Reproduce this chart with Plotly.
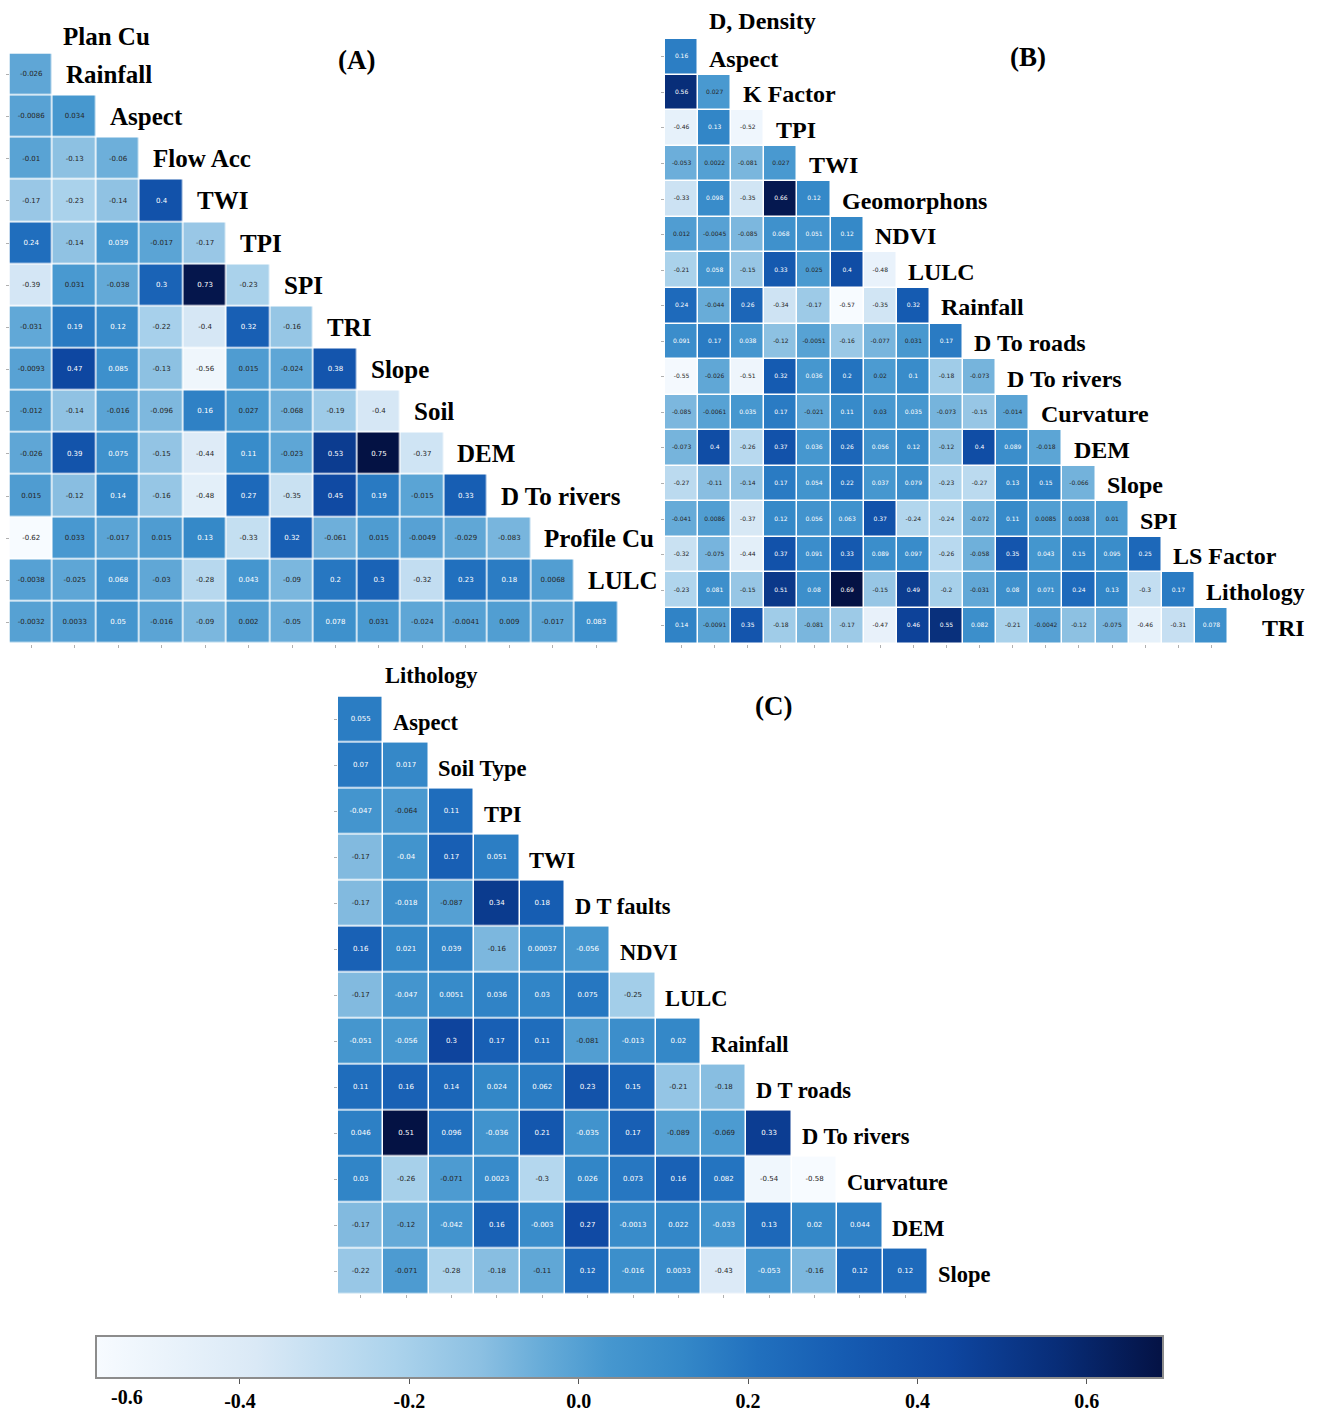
import plotly.graph_objects as go
from plotly.colors import sample_colorscale, sequential

# ---------------- data: lower-triangle correlation matrices ----------------
# Panel A
a_labels = ["Plan Cu", "Rainfall", "Aspect", "Flow Acc", "TWI", "TPI", "SPI", "TRI",
            "Slope", "Soil", "DEM", "D To rivers", "Profile Cu", "LULC"]
a_rows = [
    [-0.026],
    [-0.0086, 0.034],
    [-0.01, -0.13, -0.06],
    [-0.17, -0.23, -0.14, 0.4],
    [0.24, -0.14, 0.039, -0.017, -0.17],
    [-0.39, 0.031, -0.038, 0.3, 0.73, -0.23],
    [-0.031, 0.19, 0.12, -0.22, -0.4, 0.32, -0.16],
    [-0.0093, 0.47, 0.085, -0.13, -0.56, 0.015, -0.024, 0.38],
    [-0.012, -0.14, -0.016, -0.096, 0.16, 0.027, -0.068, -0.19, -0.4],
    [-0.026, 0.39, 0.075, -0.15, -0.44, 0.11, -0.023, 0.53, 0.75, -0.37],
    [0.015, -0.12, 0.14, -0.16, -0.48, 0.27, -0.35, 0.45, 0.19, -0.015, 0.33],
    [-0.62, 0.033, -0.017, 0.015, 0.13, -0.33, 0.32, -0.061, 0.015, -0.0049, -0.029, -0.083],
    [-0.0038, -0.025, 0.068, -0.03, -0.28, 0.043, -0.09, 0.2, 0.3, -0.32, 0.23, 0.18, 0.0068],
    [-0.0032, 0.0033, 0.05, -0.016, -0.09, 0.002, -0.05, 0.078, 0.031, -0.024, -0.0041,
     0.009, -0.017, 0.083],
]

# Panel B
b_labels = ["D, Density", "Aspect", "K Factor", "TPI", "TWI", "Geomorphons", "NDVI", "LULC",
            "Rainfall", "D To roads", "D To rivers", "Curvature", "DEM", "Slope", "SPI",
            "LS Factor", "Lithology", "TRI"]
b_rows = [
    [0.16],
    [0.56, 0.027],
    [-0.46, 0.13, -0.52],
    [-0.053, 0.0022, -0.081, 0.027],
    [-0.33, 0.098, -0.35, 0.66, 0.12],
    [0.012, -0.0045, -0.085, 0.068, 0.051, 0.12],
    [-0.21, 0.058, -0.15, 0.33, 0.025, 0.4, -0.48],
    [0.24, -0.044, 0.26, -0.34, -0.17, -0.57, -0.35, 0.32],
    [0.091, 0.17, 0.038, -0.12, -0.0051, -0.16, -0.077, 0.031, 0.17],
    [-0.55, -0.026, -0.51, 0.32, 0.036, 0.2, 0.02, 0.1, -0.18, -0.073],
    [-0.085, -0.0061, 0.035, 0.17, -0.021, 0.11, 0.03, 0.035, -0.073, -0.15, -0.014],
    [-0.073, 0.4, -0.26, 0.37, 0.036, 0.26, 0.056, 0.12, -0.12, 0.4, 0.089, -0.018],
    [-0.27, -0.11, -0.14, 0.17, 0.054, 0.22, 0.037, 0.079, -0.23, -0.27, 0.13, 0.15, -0.066],
    [-0.041, 0.0086, -0.37, 0.12, 0.056, 0.063, 0.37, -0.24, -0.24, -0.072, 0.11, 0.0085,
     0.0038, 0.01],
    [-0.32, -0.075, -0.44, 0.37, 0.091, 0.33, 0.089, 0.097, -0.26, -0.058, 0.35, 0.043,
     0.15, 0.095, 0.25],
    [-0.23, 0.081, -0.15, 0.51, 0.08, 0.69, -0.15, 0.49, -0.2, -0.031, 0.08, 0.071, 0.24,
     0.13, -0.3, 0.17],
    [0.14, -0.0091, 0.35, -0.18, -0.081, -0.17, -0.47, 0.46, 0.55, 0.082, -0.21, -0.0042,
     -0.12, -0.075, -0.46, -0.31, 0.078],
]

# Panel C
c_labels = ["Lithology", "Aspect", "Soil Type", "TPI", "TWI", "D T faults", "NDVI", "LULC",
            "Rainfall", "D T roads", "D To rivers", "Curvature", "DEM", "Slope"]
c_rows = [
    [0.055],
    [0.07, 0.017],
    [-0.047, -0.064, 0.11],
    [-0.17, -0.04, 0.17, 0.051],
    [-0.17, -0.018, -0.087, 0.34, 0.18],
    [0.16, 0.021, 0.039, -0.16, 0.00037, -0.056],
    [-0.17, -0.047, 0.0051, 0.036, 0.03, 0.075, -0.25],
    [-0.051, -0.056, 0.3, 0.17, 0.11, -0.081, -0.013, 0.02],
    [0.11, 0.16, 0.14, 0.024, 0.062, 0.23, 0.15, -0.21, -0.18],
    [0.046, 0.51, 0.096, -0.036, 0.21, -0.035, 0.17, -0.089, -0.069, 0.33],
    [0.03, -0.26, -0.071, 0.0023, -0.3, 0.026, 0.073, 0.16, 0.082, -0.54, -0.58],
    [-0.17, -0.12, -0.042, 0.16, -0.003, 0.27, -0.0013, 0.022, -0.033, 0.13, 0.02, 0.044],
    [-0.22, -0.071, -0.28, -0.18, -0.11, 0.12, -0.016, 0.0033, -0.43, -0.053, -0.16, 0.12, 0.12],
]

colorbar_ticks = [-0.4, -0.2, 0.0, 0.2, 0.4, 0.6]
colorbar_ticktext = ["-0.4", "-0.2", "0.0", "0.2", "0.4", "0.6"]

# ---------------- styling ----------------
W, H = 1320, 1412
LABEL_FONT = "Liberation Serif"
VALUE_FONT = "DejaVu Sans"

# deep "Blues" ramp used for the cells and the colour bar
CELL_SCALE = [
    [0.00, "rgb(247,251,255)"],
    [0.15, "rgb(218,233,246)"],
    [0.28, "rgb(172,211,236)"],
    [0.36, "rgb(140,192,226)"],
    [0.42, "rgb(102,171,216)"],
    [0.48, "rgb(70,151,207)"],
    [0.55, "rgb(52,136,200)"],
    [0.62, "rgb(33,112,190)"],
    [0.70, "rgb(22,92,178)"],
    [0.80, "rgb(14,70,160)"],
    [0.90, "rgb(8,45,120)"],
    [1.00, "rgb(4,18,68)"],
]
# the annotation colour rule works on the standard Blues ramp
CONTRAST_SCALE = sequential.Blues


def text_color(v, lo, hi):
    """Dark text on light cells, white on dark ones (relative luminance rule)."""
    rgb = sample_colorscale(CONTRAST_SCALE, [(v - lo) / (hi - lo)])[0]
    r, g, b = [float(c) for c in rgb[rgb.index("(") + 1:-1].split(",")]

    def lin(c):
        c = c / 255.0
        return c / 12.92 if c <= 0.03928 else ((c + 0.055) / 1.055) ** 2.4

    lum = 0.2126 * lin(r) + 0.7152 * lin(g) + 0.0722 * lin(b)
    return "#262626" if lum > 0.408 else "white"


panels = [
    dict(rows=a_rows, labels=a_labels, px=(9.5, 618), py=(53.5, 644), ax="",
         vsize=7, lsize=25, off=0.26, off0=0.19, dy=0.0, dy0=0.1, nudge={}, show_scale=False),
    dict(rows=b_rows, labels=b_labels, px=(665, 1228), py=(39, 644), ax="2",
         vsize=6, lsize=24, off=0.28, off0=0.28, dy=0.05, dy0=0.0, nudge={"TRI": 0.7},
         show_scale=True),
    dict(rows=c_rows, labels=c_labels, px=(338, 928), py=(697, 1295), ax="3",
         vsize=7, lsize=22.5, off=0.17, off0=0.0, dy=0.07, dy0=0.05, nudge={}, show_scale=False),
]

fig = go.Figure()
annotations = []
layout_axes = {}

for p in panels:
    rows = p["rows"]
    n = len(rows)
    flat = [v for r in rows for v in r]
    lo, hi = min(flat), max(flat)
    z = [r + [None] * (n - len(r)) for r in rows]
    xs, ys, txt, cols = [], [], [], []
    for i, r in enumerate(rows):
        for j, v in enumerate(r):
            xs.append(j)
            ys.append(i + 1)
            txt.append(str(v))
            cols.append(text_color(v, lo, hi))

    xref, yref = "x" + p["ax"], "y" + p["ax"]
    hm = go.Heatmap(
        z=z, x=list(range(n)), y=list(range(1, n + 1)),
        colorscale=CELL_SCALE, zmin=lo, zmax=hi, xgap=1.5, ygap=1.5,
        showscale=p["show_scale"], xaxis=xref, yaxis=yref, hoverongaps=False,
    )
    if p["show_scale"]:
        hm.colorbar = dict(
            orientation="h", x=(96 + 1163) / 2 / W, xanchor="center",
            len=1067 / W, lenmode="fraction", thickness=42, thicknessmode="pixels",
            y=1 - 1336 / H, yanchor="top", xpad=0, ypad=0,
            outlinewidth=2, outlinecolor="#8c8c8c",
            tickvals=colorbar_ticks, ticktext=colorbar_ticktext,
            ticks="outside", ticklen=5, tickcolor="#555",
            tickfont=dict(family=LABEL_FONT, size=20, color="black", weight="bold"),
        )
    fig.add_trace(hm)
    fig.add_trace(go.Scatter(
        x=xs, y=ys, text=txt, mode="text", xaxis=xref, yaxis=yref,
        textfont=dict(family=VALUE_FONT, size=p["vsize"], color=cols),
        hoverinfo="skip", showlegend=False,
    ))

    x0, x1 = p["px"]
    y0, y1 = p["py"]
    layout_axes["xaxis" + p["ax"]] = dict(
        domain=[x0 / W, x1 / W], range=[-0.5, n - 0.5], anchor=yref,
        showgrid=False, zeroline=False, showticklabels=False,
        tickvals=list(range(n)), ticks="outside", ticklen=3, tickcolor="#b0b0b0",
        showline=False, fixedrange=True,
    )
    layout_axes["yaxis" + p["ax"]] = dict(
        domain=[1 - y1 / H, 1 - y0 / H], range=[n + 0.5, 0.5], anchor=xref,
        showgrid=False, zeroline=False, showticklabels=False,
        tickvals=list(range(1, n + 1)), ticks="outside", ticklen=3, tickcolor="#b0b0b0",
        showline=False, fixedrange=True,
    )

    def to_paper(xd, yd, x0=x0, x1=x1, y0=y0, y1=y1, n=n):
        """Map cell coordinates of this panel to paper coordinates."""
        xp = x0 + (xd + 0.5) / n * (x1 - x0)
        yp = y0 + (yd - 0.5) / n * (y1 - y0)
        return xp / W, 1 - yp / H

    # variable names along the diagonal
    for k, name in enumerate(p["labels"]):
        if k == 0:
            lx, ly = 0.5 + p["off0"], p["dy0"]
        else:
            lx, ly = k - 0.5 + p["off"] + p["nudge"].get(name, 0.0), k + p["dy"]
        px_, py_ = to_paper(lx, ly)
        annotations.append(dict(
            text=name, x=px_, y=py_, xref="paper", yref="paper",
            xanchor="left", yanchor="middle", showarrow=False,
            font=dict(family=LABEL_FONT, size=p["lsize"], color="black", weight="bold"),
        ))

# panel letters
for letter, (cx, cy) in {"(A)": (356, 60), "(B)": (1028, 57), "(C)": (773, 707)}.items():
    annotations.append(dict(
        text=letter, x=cx / W, y=1 - cy / H, xref="paper", yref="paper",
        xanchor="center", yanchor="middle", showarrow=False,
        font=dict(family=LABEL_FONT, size=27, color="black", weight="bold"),
    ))

# leftmost colour-bar label
annotations.append(dict(
    text="-0.6", x=127 / W, y=1 - 1398 / H, xref="paper", yref="paper",
    xanchor="center", yanchor="middle", showarrow=False,
    font=dict(family=LABEL_FONT, size=20, color="black", weight="bold"),
))

fig.update_layout(
    width=W, height=H, margin=dict(l=0, r=0, t=0, b=0),
    paper_bgcolor="white", plot_bgcolor="white",
    showlegend=False, annotations=annotations, **layout_axes,
)

fig.write_html("out.html")
